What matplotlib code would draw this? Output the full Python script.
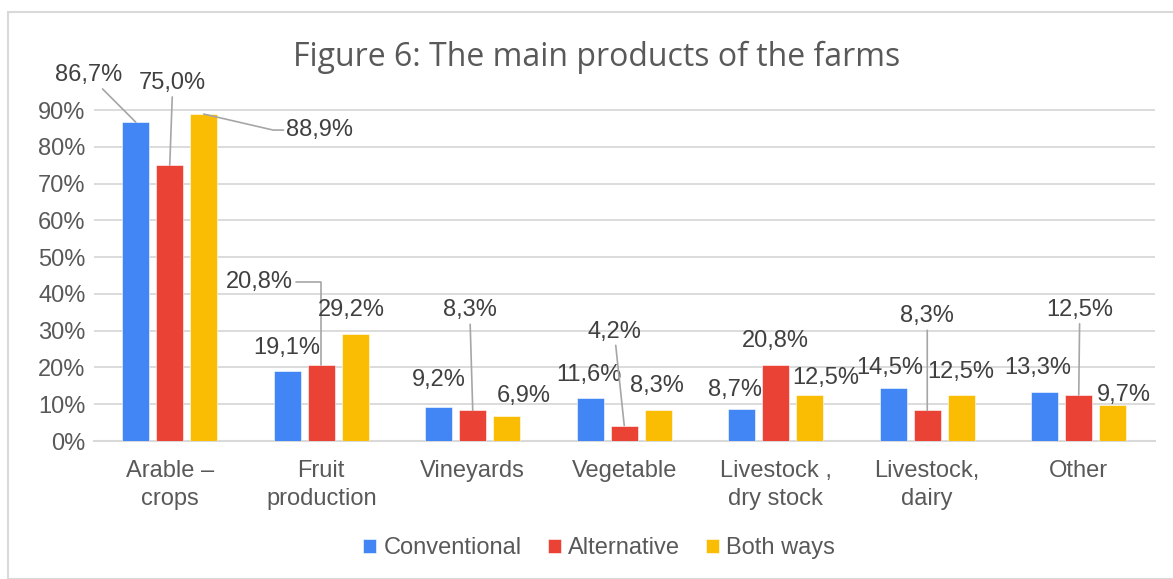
import matplotlib
matplotlib.use("Agg")
import matplotlib.pyplot as plt
from matplotlib.patches import Rectangle
import numpy as np

# data
categories = ["Arable –\ncrops", "Fruit\nproduction", "Vineyards", "Vegetable",
              "Livestock ,\ndry stock", "Livestock,\ndairy", "Other"]
conventional = [86.7, 19.1, 9.2, 11.6, 8.7, 14.5, 13.3]
alternative = [75.0, 20.8, 8.3, 4.2, 20.8, 8.3, 12.5]
both_ways = [88.9, 29.2, 6.9, 8.3, 12.5, 12.5, 9.7]
series_names = ["Conventional", "Alternative", "Both ways"]
yticks = [0, 10, 20, 30, 40, 50, 60, 70, 80, 90]

colors = ["#4285F4", "#EA4335", "#FBBC04"]
text_grey = "#595959"
grid_grey = "#d9d9d9"
line_grey = "#a6a6a6"

# label offsets in pixels from the bar top (dx, dy), and leader style
# None = no leader, "line" = straight leader, or a named special one
label_layout = [
    # conventional
    [(-47, 47, "line"), (-1, 23, None), (0, 27, None), (-1, 23, None),
     (-7, 19, None), (-4, 20, None), (-7, 24, None)],
    # alternative
    [(3, 82, "line"), (-62, 83, "fruit"), (-3, 100, "line"), (-10, 94, "line"),
     (0, 24, None), (0, 94, "line"), (1, 85, "line")],
    # both ways
    [(116, -16, "arable"), (-4, 24, None), (17, 20, None), (-1, 24, None),
     (16, 17, None), (0, 23, None), (11, 10, None)],
]

fs = 17
fig = plt.figure(figsize=(11.73, 5.79), dpi=100)
fig.patches.append(Rectangle((7.5 / 1173, 0), 1.0, 1 - 11.5 / 579,
                             transform=fig.transFigure, fill=False,
                             edgecolor=grid_grey, linewidth=1.5))

ax = fig.add_axes([94 / 1173, 138 / 579, 1060.5 / 1173, 332.1 / 579])

x = np.arange(len(categories))
width = 0.178
step = 0.2244
all_series = [conventional, alternative, both_ways]

for k, vals in enumerate(all_series):
    pos = x + (k - 1) * step
    ax.bar(pos, vals, width, color=colors[k], label=series_names[k],
           edgecolor="white", linewidth=0.4, zorder=3)
    for i, v in enumerate(vals):
        dx, dy, lead = label_layout[k][i]
        txt = f"{v:.1f}%".replace(".", ",")
        kw = dict(xy=(pos[i], v), xytext=(dx, dy), textcoords="offset pixels",
                  ha="center", va="center", fontsize=fs, color="#404040",
                  family="Liberation Sans", annotation_clip=False, zorder=5)
        arrow = dict(arrowstyle="-", color=line_grey, lw=1.2, shrinkA=0, shrinkB=0)
        if lead is None:
            ax.annotate(txt, **kw)
        elif lead == "line":
            ax.annotate(txt, arrowprops=arrow, **kw)
        elif lead == "fruit":
            arrow.update(relpos=(1, 0.5),
                         connectionstyle="angle,angleA=0,angleB=90,rad=0")
            ax.annotate(txt, arrowprops=arrow, **kw)
        elif lead == "arable":
            arrow.update(relpos=(0, 0.5),
                         connectionstyle="angle,angleA=0,angleB=-13,rad=0")
            ax.annotate(txt, arrowprops=arrow, **kw)

ax.set_xlim(-0.5, len(categories) - 0.5)
ax.set_ylim(0, 90.3)
ax.set_yticks(yticks)
ax.set_yticklabels([f"{t}%" for t in yticks])
ax.set_xticks(x)
ax.set_xticklabels(categories, linespacing=1.3)
ax.tick_params(length=0, labelsize=fs, labelcolor=text_grey, pad=6)
for lab in ax.get_xticklabels() + ax.get_yticklabels():
    lab.set_family("Liberation Sans")
ax.tick_params(axis="x", pad=14)
ax.grid(axis="y", color=grid_grey, linewidth=1.3, zorder=0)
for s in ["top", "right", "left"]:
    ax.spines[s].set_visible(False)
ax.spines["bottom"].set_color(grid_grey)
ax.spines["bottom"].set_linewidth(1.5)

fig.text(0.5085, 1 - 57 / 579, "Figure 6: The main products of the farms",
         ha="center", va="center", fontsize=23, color=text_grey, family="Open Sans")

leg = fig.legend(loc="center", bbox_to_anchor=(599 / 1173, 1 - 548 / 579), ncol=3,
                 frameon=False, handlelength=0.55, handleheight=0.55,
                 handletextpad=0.3, columnspacing=1.1,
                 prop={"family": "Liberation Sans", "size": fs})
for t in leg.get_texts():
    t.set_color(text_grey)

fig.savefig("out.png", dpi=100)
